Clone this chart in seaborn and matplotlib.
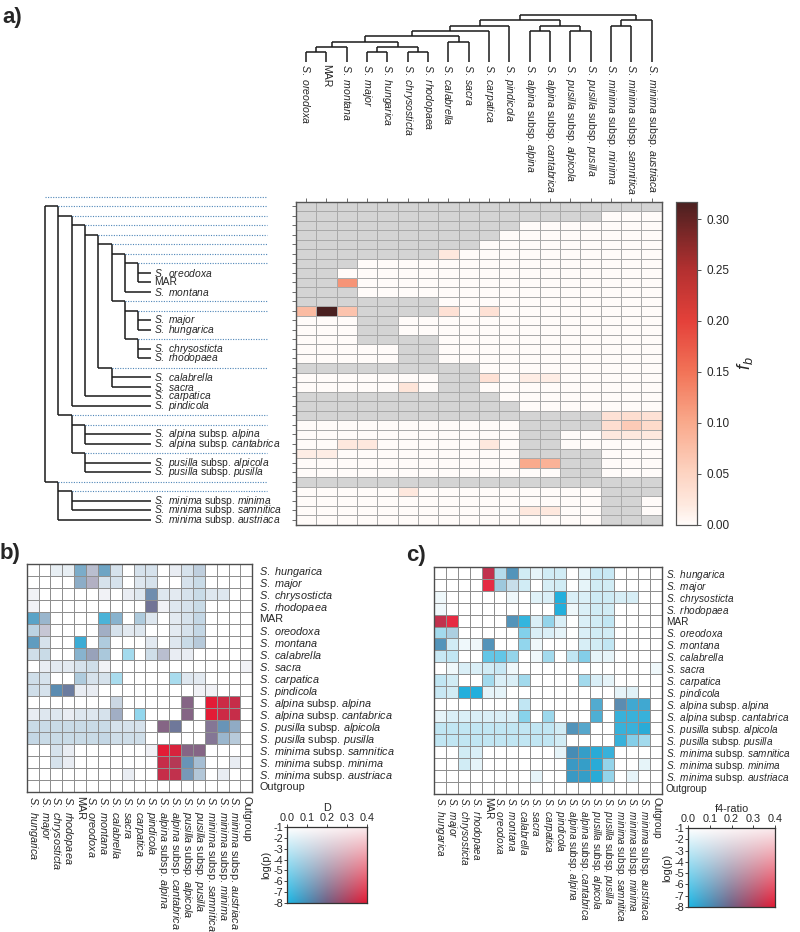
import numpy as np
import matplotlib
matplotlib.use("Agg")
import matplotlib.pyplot as plt
import seaborn as sns
from matplotlib.colors import ListedColormap, LinearSegmentedColormap

sns.set_theme(style="white")
plt.rcParams["font.family"] = ["Liberation Sans", "DejaVu Sans"]
plt.rcParams["mathtext.fontset"] = "custom"
plt.rcParams["mathtext.rm"] = "Liberation Sans"
plt.rcParams["mathtext.it"] = "Liberation Sans:italic"
plt.rcParams["mathtext.bf"] = "Liberation Sans:bold"

# ---------------- tree (panel a) ----------------
F_CLADE = (("S. oreodoxa", "MAR"), "S. montana")
G_CLADE = (("S. major", "S. hungarica"), ("S. chrysosticta", "S. rhodopaea"))
D_CLADE = ((F_CLADE, G_CLADE), ("S. calabrella", "S. sacra"))
B_CLADE = ((D_CLADE, "S. carpatica"), "S. pindicola")
AP_CLADE = (("S. alpina subsp. alpina", "S. alpina subsp. cantabrica"),
            ("S. pusilla subsp. alpicola", "S. pusilla subsp. pusilla"))
M_CLADE = (("S. minima subsp. minima", "S. minima subsp. samnitica"), "S. minima subsp. austriaca")
TREE = ((B_CLADE, AP_CLADE), M_CLADE)

# f_b values: one row per branch (pre-order), one column per species
FB = [[0.0] * 18 for _ in range(34)]
FB_NONZERO = [
    (5, 7, 0.02),
    (8, 2, 0.12),
    (11, 0, 0.08), (11, 1, 0.317), (11, 2, 0.07), (11, 7, 0.03), (11, 9, 0.03),
    (18, 9, 0.03), (18, 11, 0.015), (18, 12, 0.015),
    (19, 5, 0.025),
    (22, 15, 0.03), (22, 16, 0.035), (22, 17, 0.03),
    (23, 15, 0.035), (23, 16, 0.06), (23, 17, 0.04),
    (24, 15, 0.02), (24, 16, 0.02), (24, 17, 0.02),
    (25, 2, 0.02), (25, 3, 0.02), (25, 9, 0.02),
    (26, 0, 0.015), (26, 1, 0.015),
    (27, 11, 0.10), (27, 12, 0.09),
    (30, 5, 0.02),
    (32, 11, 0.02), (32, 12, 0.02),
]
for r, c, v in FB_NONZERO:
    FB[r][c] = v
FB_VMAX = 0.317
FB_TICKS = [0.0, 0.05, 0.10, 0.15, 0.20, 0.25, 0.30]

# ---------------- panels b and c ----------------
BC_LABELS = ["S. hungarica", "S. major", "S. chrysosticta", "S. rhodopaea", "MAR",
             "S. oreodoxa", "S. montana", "S. calabrella", "S. sacra", "S. carpatica",
             "S. pindicola", "S. alpina subsp. alpina", "S. alpina subsp. cantabrica",
             "S. pusilla subsp. alpicola", "S. pusilla subsp. pusilla",
             "S. minima subsp. samnitica", "S. minima subsp. minima",
             "S. minima subsp. austriaca", "Outgroup"]

# -log10(p) (1 = not significant) and D statistic, panel b
NLP_B = [
    [1, 1, 1.8, 1.8, 6, 4, 6.5, 2.5, 1, 2.5, 2.5, 1, 1.8, 2.5, 3.5, 1, 1, 1, 1],
    [1, 1, 1, 1, 5.5, 4.5, 2.5, 2.5, 1, 2.2, 2.5, 1, 1, 2.5, 3, 1, 1, 1, 1],
    [1.5, 1, 1, 1, 1, 1, 1.5, 1, 1.8, 2.2, 7, 2.2, 2, 2.5, 3, 2.2, 2.2, 1, 1],
    [1.5, 1, 1, 1, 1, 1, 1, 1, 1, 1, 7.5, 1.5, 2.2, 2.5, 3, 1, 1, 1, 1],
    [7, 5, 1, 1, 1, 1, 7, 5.5, 1, 4, 2.2, 1, 2, 2.5, 3.2, 1, 1, 1, 1],
    [3.5, 3.5, 1, 1, 1, 1, 5, 2.5, 2, 2.2, 1, 1, 2, 2.5, 3.2, 1, 1, 1, 1],
    [7, 2.5, 1, 1, 7.5, 1, 4, 1, 1, 1, 2, 1, 2.2, 3, 3.8, 1, 1, 1, 1],
    [2.8, 3, 1, 1, 5.5, 5.5, 4.2, 1, 4, 1, 2.8, 4, 1.8, 1.8, 1, 1, 1, 1, 1],
    [1, 1.8, 2, 2, 2.5, 2.8, 1.5, 1, 1, 1, 1, 1, 1, 1, 1, 1, 1, 1, 1.5],
    [2.8, 2.5, 1, 1, 4, 2.5, 2.5, 3.8, 1, 1, 1, 1, 3.8, 2.2, 2, 1, 1, 1, 1],
    [2.8, 2.5, 7.5, 7.5, 1.8, 1.8, 1, 1, 1, 1, 1, 1, 1, 1, 1.5, 1.5, 1, 1, 1],
    [1, 1, 1, 1, 1, 1, 1, 3, 1, 1, 1, 1, 1, 7.5, 1, 8, 8, 8, 1],
    [1.8, 2.2, 2.2, 1.8, 2.2, 2.2, 2.5, 5, 1, 4.5, 1, 1, 1, 7.5, 1, 8, 8, 8, 1],
    [3, 3, 3, 3, 3, 3, 3, 2.5, 2.5, 2.5, 1, 7.5, 7.5, 1, 1, 7, 7, 5.5, 1],
    [3.2, 3, 3, 3, 3, 3, 3.2, 2.8, 2.8, 2.8, 1, 1, 1, 1, 1, 7, 5, 3.8, 1],
    [1, 1, 2.5, 1.8, 1, 1, 1, 1, 1, 1, 1.5, 8, 8, 7.5, 7.5, 1, 1, 1, 1],
    [1, 1, 2.5, 1.8, 1, 1, 1, 1, 1, 1, 1, 8, 8, 7, 4.5, 1, 1, 1.8, 1],
    [1, 1, 1, 1, 1, 1, 1, 1, 1.8, 1, 1, 8, 8, 6.5, 4, 1, 1.8, 1, 1],
    [1, 1, 1, 1, 1, 1, 1, 1, 1, 1, 1, 1, 1, 1, 1, 1, 1, 1, 1],
]
D_B = [
    [0, 0, .08, .08, .1, .16, .1, .1, 0, .1, .1, 0, .1, .1, .12, 0, 0, 0, 0],
    [0, 0, 0, 0, .12, .18, .1, .1, 0, .1, .1, 0, 0, .1, .1, 0, 0, 0, 0],
    [.1, 0, 0, 0, 0, 0, .1, 0, .1, .1, .14, .1, .1, .1, .1, .1, .1, 0, 0],
    [.1, 0, 0, 0, 0, 0, 0, 0, 0, 0, .18, .1, .1, .1, .1, 0, 0, 0, 0],
    [.08, .12, 0, 0, 0, 0, .04, .1, 0, .1, .1, 0, .1, .1, .1, 0, 0, 0, 0],
    [.1, .17, 0, 0, 0, 0, .15, .1, .1, .1, 0, 0, .1, .1, .1, 0, 0, 0, 0],
    [.1, .1, 0, 0, .04, 0, .1, 0, 0, 0, .1, 0, .1, .1, .12, 0, 0, 0, 0],
    [.1, .1, 0, 0, .1, .16, .1, 0, .03, 0, .1, .16, .1, .1, 0, 0, 0, 0, 0],
    [0, .1, .1, .1, .1, .1, .1, 0, 0, 0, 0, 0, 0, 0, 0, 0, 0, 0, .1],
    [.1, .1, 0, 0, .1, .1, .1, .03, 0, 0, 0, 0, .03, .1, .1, 0, 0, 0, 0],
    [.1, .1, .12, .16, .1, .1, 0, 0, 0, 0, 0, 0, 0, 0, .1, .1, 0, 0, 0],
    [0, 0, 0, 0, 0, 0, 0, .12, 0, 0, 0, 0, 0, .22, 0, .4, .36, .35, 0],
    [.1, .1, .1, .1, .1, .1, .1, .15, 0, .02, 0, 0, 0, .22, 0, .4, .36, .35, 0],
    [.1, .1, .1, .1, .1, .1, .1, .1, .1, .1, 0, .22, .17, 0, 0, .2, .12, .13, 0],
    [.1, .1, .1, .1, .1, .1, .1, .1, .1, .1, 0, 0, 0, 0, 0, .2, .12, .12, 0],
    [0, 0, .1, .1, 0, 0, 0, 0, 0, 0, .1, .4, .38, .22, .22, 0, 0, 0, 0],
    [0, 0, .1, .1, 0, 0, 0, 0, 0, 0, 0, .35, .32, .12, .12, 0, 0, .1, 0],
    [0, 0, 0, 0, 0, 0, 0, 0, .1, 0, 0, .35, .34, .13, .12, 0, .1, 0, 0],
    [0] * 19,
]
# panel c: -log10(p) and f4-ratio
NLP_C = [
    [1, 1, 1, 1, 8, 3.5, 7.5, 2.5, 1.8, 2.5, 2.5, 1, 1.8, 2.8, 2.8, 1, 1, 1, 1],
    [1, 1, 1, 1, 7.5, 4.5, 3, 2.5, 1, 2.3, 2.5, 1, 1.8, 2.5, 2.5, 1, 1, 1, 1],
    [1.5, 1, 1, 1, 1, 1, 1.5, 1, 2, 2.2, 8, 2.2, 2.2, 2.6, 2.6, 2.3, 2.3, 1, 1],
    [1.5, 1, 1, 1, 1, 1, 1, 1, 1, 1, 8, 1.5, 2.2, 2.5, 2.5, 1, 1, 1, 1],
    [8, 7.5, 1, 1, 1, 1, 7.5, 7.5, 2.2, 4.5, 2.2, 1, 2.2, 2.5, 3, 1, 1, 1, 1],
    [4, 4, 1, 1, 1, 1, 1, 5, 2.2, 2.2, 1.8, 1, 2.2, 2.5, 2.5, 1, 1, 1, 1],
    [7.5, 2.5, 1.5, 1.5, 7.5, 1, 1, 4.5, 1.5, 1, 1, 1, 2.3, 2.5, 3, 1, 1, 1, 1],
    [2.8, 3, 1, 1, 6, 6, 4.5, 1, 1.5, 4, 1, 3, 5, 1.8, 1.8, 1, 1, 1, 1],
    [1, 1.5, 2.2, 2.2, 2.5, 2.8, 1.5, 1, 1, 1, 1, 1, 1, 1, 1, 1, 1, 1, 1.5],
    [3, 2.5, 1, 1, 4, 2.2, 2.2, 4, 1, 1, 1, 1, 4, 2.2, 1.8, 1, 1, 1, 1],
    [2.8, 2.5, 8, 8, 1.8, 1.8, 1, 1, 1, 1, 1, 1, 1, 1, 1, 1.8, 2, 1, 1],
    [1, 1, 1, 1, 1, 1, 1, 3, 1, 1, 1, 1, 1, 7, 1, 7.5, 7.5, 7.5, 1],
    [1.8, 2.2, 2.2, 2.2, 2.2, 2.2, 2.2, 4.8, 1, 4.2, 1, 1, 1, 7, 1, 7.5, 7.5, 7.5, 1],
    [3, 3, 3, 3, 3, 3, 3, 3, 3, 3, 2.5, 7.5, 7, 1, 1, 7.5, 7.5, 8, 1],
    [3, 3, 3, 3, 3, 3, 3, 3, 3, 3, 2.5, 1, 1, 1, 1, 7.5, 5, 4, 1],
    [1, 1, 2.5, 2.2, 1, 1, 1, 1, 1, 1, 1.8, 8, 8, 8, 7.5, 1, 1, 1, 1],
    [1, 1, 2.5, 1.8, 1, 1, 1, 1, 1, 1, 1, 8, 8, 8, 4.5, 1, 1, 1.8, 1],
    [1, 1, 1, 1, 1, 1, 1, 1, 1.8, 1, 1, 8, 8, 8, 4.5, 1, 1.8, 1, 1],
    [1, 1, 1, 1, 1, 1, 1, 1, 1, 1, 1, 1, 1, 1, 1, 1, 1, 1, 1],
]
F4_C = [
    [0, 0, 0, 0, .34, .05, .1, .03, .03, .03, .03, 0, .03, .03, .03, 0, 0, 0, 0],
    [0, 0, 0, 0, .4, .08, .08, .03, 0, .03, .03, 0, .03, .03, .03, 0, 0, 0, 0],
    [.03, 0, 0, 0, 0, 0, .03, 0, .03, .03, .02, .03, .03, .03, .03, .03, .03, 0, 0],
    [.03, 0, 0, 0, 0, 0, 0, 0, 0, 0, .02, .03, .03, .03, .03, 0, 0, 0, 0],
    [.34, .4, 0, 0, 0, 0, .1, .02, .03, .03, .03, 0, .03, .03, .03, 0, 0, 0, 0],
    [.03, .08, 0, 0, 0, 0, 0, .02, .03, .03, .03, 0, .03, .03, .03, 0, 0, 0, 0],
    [.1, .03, .03, .03, .1, 0, 0, .02, .03, 0, 0, 0, .03, .03, .03, 0, 0, 0, 0],
    [.03, .03, 0, 0, .02, .02, .03, 0, .03, .03, 0, .03, .03, .03, .03, 0, 0, 0, 0],
    [0, .03, .03, .03, .03, .03, .03, 0, 0, 0, 0, 0, 0, 0, 0, 0, 0, 0, .03],
    [.03, .03, 0, 0, .03, .03, .03, .03, 0, 0, 0, 0, .03, .03, .03, 0, 0, 0, 0],
    [.03, .03, .02, .02, .03, .03, 0, 0, 0, 0, 0, 0, 0, 0, 0, .03, .03, 0, 0],
    [0, 0, 0, 0, 0, 0, 0, .03, 0, 0, 0, 0, 0, .06, 0, .12, .05, .05, 0],
    [.03, .03, .03, .03, .03, .03, .03, .02, 0, .03, 0, 0, 0, .05, 0, .03, .03, .03, 0],
    [.03, .03, .03, .03, .03, .03, .03, .03, .03, .03, .03, .1, .07, 0, 0, .03, .03, .03, 0],
    [.03, .03, .03, .03, .03, .03, .03, .03, .03, .03, .03, 0, 0, 0, 0, .03, .03, .03, 0],
    [0, 0, .03, .03, 0, 0, 0, 0, 0, 0, .03, .1, .06, .03, .03, 0, 0, 0, 0],
    [0, 0, .03, .03, 0, 0, 0, 0, 0, 0, 0, .07, .06, .03, .03, 0, 0, .03, 0],
    [0, 0, 0, 0, 0, 0, 0, 0, .03, 0, 0, .07, .06, .03, .03, 0, .03, 0, 0],
    [0] * 19,
]
LEG_X_TICKS = [0.0, 0.1, 0.2, 0.3, 0.4]
LEG_Y_TICKS = [-1, -2, -3, -4, -5, -6, -7, -8]

# ---------------- helpers ----------------
W, H = 800.0, 932.0
fig = plt.figure(figsize=(W / 100, H / 100), dpi=100)


def ax_px(x0, y0, x1, y1):
    return fig.add_axes([x0 / W, 1 - y1 / H, (x1 - x0) / W, (y1 - y0) / H])


def fmt(name):
    if " " not in name:
        return name
    if " subsp. " in name:
        a, b = name.split(" subsp. ")
        return r"$\mathit{%s}$ subsp. $\mathit{%s}$" % (a.replace(" ", r"\ "), b)
    return r"$\mathit{%s}$" % name.replace(" ", r"\ ")


def is_leaf(n):
    return isinstance(n, str)


def leaves(n):
    return [n] if is_leaf(n) else leaves(n[0]) + leaves(n[1])


COLS = leaves(TREE)
ROWS = []  # (node, parent, depth)


def walk(n, parent, depth):
    ROWS.append((n, parent, depth))
    if not is_leaf(n):
        for c in n:
            walk(c, n, depth + 1)


for ch in TREE:
    walk(ch, TREE, 1)
ROW_OF = {id(n): i for i, (n, p, d) in enumerate(ROWS)}
DEPTH_OF = {id(n): d for (n, p, d) in ROWS}
DEPTH_OF[id(TREE)] = 0
NR, NC = len(ROWS), len(COLS)

fb = np.array(FB, dtype=float)
grey = np.zeros((NR, NC), dtype=bool)
for i, (n, p, d) in enumerate(ROWS):
    pl = set(leaves(p))
    for j, c in enumerate(COLS):
        grey[i, j] = c in pl

# ---------------- panel a heatmap ----------------
ax_a = ax_px(296, 201.7, 661.7, 524.7)
cax = ax_px(676, 201.7, 697, 524.7)
fb_cmap = LinearSegmentedColormap.from_list(
    "fb", [(0.0, "#fffbf9"), (0.06, "#fee9df"), (0.16, "#fdd3c1"), (0.32, "#f9a88a"),
           (0.47, "#f27458"), (0.63, "#e4413a"), (0.79, "#b33030"), (1.0, "#4a2020")])
grey_layer = np.where(grey, 1.0, np.nan)
sns.heatmap(grey_layer, ax=ax_a, cmap=ListedColormap(["#d4d4d4"]), cbar=False,
            linewidths=0.6, linecolor="#a9a9a9", xticklabels=False, yticklabels=False)
sns.heatmap(fb, mask=grey, ax=ax_a, cmap=fb_cmap, vmin=0, vmax=FB_VMAX,
            cbar_ax=cax, linewidths=0.6, linecolor="#a9a9a9",
            xticklabels=False, yticklabels=False)
for s in ax_a.spines.values():
    s.set_visible(True)
    s.set_color("#555555")
    s.set_linewidth(1.0)
ax_a.set_xticks(np.arange(NC) + 0.5)
ax_a.set_yticks(np.arange(NR) + 0.5)
ax_a.set_xticklabels([])
ax_a.set_yticklabels([])
ax_a.xaxis.tick_top()
ax_a.tick_params(axis="both", length=3, width=0.6, color="#555555", direction="out")
ax_a.tick_params(axis="y", left=True)
ax_a.tick_params(axis="x", top=True)

cax.set_yticks(FB_TICKS)
cax.set_yticklabels(["%.2f" % t for t in FB_TICKS], fontsize=8.5)
cax.tick_params(length=3, width=0.6, color="#333333", right=True)
for s in cax.spines.values():
    s.set_visible(True)
    s.set_color("#555555")
    s.set_linewidth(0.8)
cax.set_ylabel(r"$f_b$", fontsize=13, labelpad=4)

# ---------------- left tree ----------------
ax_t = ax_px(0, 201.7, 296, 524.7)
ax_t.set_xlim(0, 296)
ax_t.set_ylim(NR, 0)
ax_t.axis("off")
XR, DX, XLEAF, XDOT = 45.0, 13.3, 151.0, 267.0
LC, LW = "#1a1a1a", 1.1


def tx(n):
    return XLEAF if is_leaf(n) else XR + DX * DEPTH_OF[id(n)]


def ty(n):
    return ROW_OF[id(n)] + 0.5


def draw_left(n):
    if is_leaf(n):
        return
    x = tx(n)
    y0 = ty(n[0]) if n is TREE else ty(n)
    ax_t.plot([x, x], [y0, ty(n[-1])], color=LC, lw=LW, solid_capstyle="butt")
    for c in n:
        ax_t.plot([x, tx(c)], [ty(c), ty(c)], color=LC, lw=LW, solid_capstyle="butt")
        draw_left(c)


draw_left(TREE)
ax_t.plot([XR, XDOT], [-0.5, -0.5], color="#4f86b8", lw=0.8, ls=(0, (1, 1.3)), clip_on=False)
for i, (n, p, d) in enumerate(ROWS):
    if is_leaf(n):
        ax_t.text(XLEAF + 3, i + 0.5, fmt(n), fontsize=7.4, va="center", ha="left")
    else:
        ax_t.plot([tx(n), XDOT], [i + 0.5, i + 0.5], color="#4f86b8", lw=0.8,
                  ls=(0, (1, 1.3)))

# ---------------- top dendrogram ----------------
ax_d = ax_px(296, 0, 661.7, 63)
ax_d.set_xlim(0, NC)
ax_d.set_ylim(63, 0)
ax_d.axis("off")
YR, DY, YLEAF = 15.0, 5.3, 62.0


def dx(n):
    if is_leaf(n):
        return COLS.index(n) + 0.5
    return (dx(n[0]) + dx(n[1])) / 2


def dy(n):
    return YLEAF if is_leaf(n) else YR + DY * DEPTH_OF[id(n)]


def draw_top(n):
    if is_leaf(n):
        return
    y = dy(n)
    ax_d.plot([dx(n[0]), dx(n[1])], [y, y], color=LC, lw=LW, solid_capstyle="butt")
    for c in n:
        ax_d.plot([dx(c), dx(c)], [y, dy(c)], color=LC, lw=LW, solid_capstyle="butt")
        draw_top(c)


draw_top(TREE)
for j, c in enumerate(COLS):
    ax_d.text(j + 0.5, 64.5, fmt(c), rotation=270, ha="center", va="top",
              fontsize=7.6, clip_on=False)

# ---------------- bivariate colour ----------------
TL = np.array([1.0, 1.0, 1.0])
TR = np.array([0.98, 0.92, 0.93])
BL = np.array([0.11, 0.72, 0.90])
BM = np.array([0.44, 0.38, 0.52])
BR = np.array([0.89, 0.11, 0.21])


def bicolor(d, nlp):
    t = min(max(d / 0.4, 0.0), 1.0)
    f = min(max((nlp - 1.0) / 7.0, 0.0), 1.0)
    top = TL * (1 - t) + TR * t
    if t < 0.5:
        bot = BL * (1 - 2 * t) + BM * (2 * t)
    else:
        bot = BM * (2 - 2 * t) + BR * (2 * t - 1)
    return tuple(top * (1 - f) + bot * f)


def pair_heatmap(ax, nlp, val, fs, ypad, xpad):
    n = len(nlp)
    colors = [bicolor(val[i][j], nlp[i][j]) for i in range(n) for j in range(n)]
    idx = np.arange(n * n).reshape(n, n)
    sns.heatmap(idx, ax=ax, cmap=ListedColormap(colors), vmin=-0.5, vmax=n * n - 0.5,
                cbar=False, linewidths=0.5, linecolor="#8f8f8f",
                xticklabels=[fmt(s) for s in BC_LABELS],
                yticklabels=[fmt(s) for s in BC_LABELS])
    ax.yaxis.tick_right()
    ax.set_yticklabels([fmt(s) for s in BC_LABELS], rotation=0, fontsize=fs)
    ax.set_xticklabels([fmt(s) for s in BC_LABELS], rotation=270, fontsize=fs)
    ax.tick_params(axis="both", length=0)
    ax.tick_params(axis="y", pad=ypad)
    ax.tick_params(axis="x", pad=xpad)
    for s in ax.spines.values():
        s.set_visible(True)
        s.set_color("#4d4d4d")
        s.set_linewidth(1.0)


def legend_box(ax, title):
    xs = np.linspace(0, 0.4, 80)
    ys = np.linspace(1, 8, 80)
    img = np.array([[bicolor(d, s) for d in xs] for s in ys])
    ax.imshow(img, extent=[0, 0.4, -8, -1], aspect="auto", origin="upper")
    ax.set_xlim(0, 0.4)
    ax.set_ylim(-8, -1)
    ax.xaxis.tick_top()
    ax.set_xticks(LEG_X_TICKS)
    ax.set_xticklabels(["%.1f" % v for v in LEG_X_TICKS], fontsize=7.8)
    ax.set_yticks(LEG_Y_TICKS)
    ax.set_yticklabels([str(v) for v in LEG_Y_TICKS], fontsize=7.8)
    ax.tick_params(length=2, width=0.6, pad=1, left=True, top=True)
    ax.set_title(title, fontsize=7.8, pad=1)
    ax.set_ylabel("log(p)", fontsize=7.8, labelpad=1)
    for s in ax.spines.values():
        s.set_visible(True)
        s.set_color("#333333")
        s.set_linewidth(0.9)


ax_b = ax_px(26.7, 564.3, 252.3, 791.7)
pair_heatmap(ax_b, NLP_B, D_B, 7.8, 5, 3)
ax_c = ax_px(434.3, 566.7, 662.3, 794.0)
pair_heatmap(ax_c, NLP_C, F4_C, 7.2, 2.5, 2.4)

leg_b = ax_px(287, 827, 367, 903)
legend_box(leg_b, "D")
leg_c = ax_px(688, 828, 775, 907)
legend_box(leg_c, "f4-ratio")

# ---------------- panel letters ----------------
fig.text(2 / W, 1 - 18 / H, "a)", fontsize=16, fontweight="bold", va="center", ha="left")
fig.text(0 / W, 1 - 553 / H, "b)", fontsize=16, fontweight="bold", va="center", ha="left")
fig.text(406 / W, 1 - 556 / H, "c)", fontsize=16, fontweight="bold", va="center", ha="left")

fig.savefig("out.png", dpi=100)
